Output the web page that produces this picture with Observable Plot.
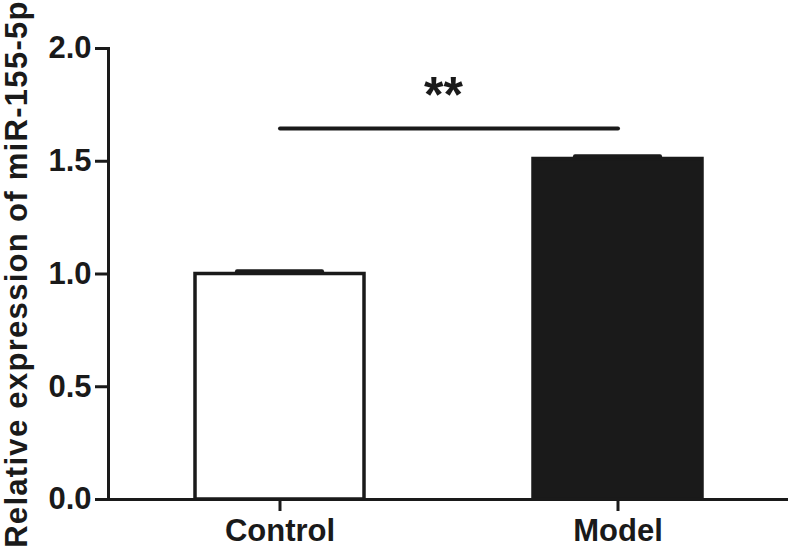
<!DOCTYPE html>
<html>
<head>
<meta charset="utf-8">
<script src="https://cdn.jsdelivr.net/npm/d3@7"></script>
<script src="https://cdn.jsdelivr.net/npm/@observablehq/plot@0.6"></script>
<style>
  html, body { margin: 0; padding: 0; background: #fff; }
  svg { display: block; }
</style>
</head>
<body>
<div id="chart"></div>
<script>
const groups = ["Control", "Model"];
const means = [1.0, 1.51];
const sems = [0.012, 0.012];
const sigY = 1.645;
const sigText = "**";
const starY = 1.79;
const yTicks = [0, 0.5, 1.0, 1.5, 2.0];
const yLabel = "Relative expression of miR-155-5p";

const data = groups.map((g, i) => ({group: g, mean: means[i], sem: sems[i]}));
const ink = "#1a1a1a";
const font = "Liberation Sans, Arial, sans-serif";

const chart = Plot.plot({
  width: 790,
  height: 547,
  marginLeft: 108,
  marginRight: 2,
  marginTop: 48,
  marginBottom: 48,
  style: {fontFamily: font, color: ink, background: "#fff"},
  x: {domain: groups, paddingInner: 0.5, paddingOuter: 0.254, label: null},
  y: {domain: [0, 2], label: null},
  marks: [
    Plot.barY(data, {x: "group", y: "mean", fill: (d, i) => i === 0 ? "#fff" : ink, stroke: ink, strokeWidth: 3.5}),
    Plot.ruleX(data, {x: "group", y1: "mean", y2: d => d.mean + d.sem, stroke: ink, strokeWidth: 3.5}),
    Plot.tickY(data, {x: "group", y: d => d.mean + d.sem, stroke: ink, strokeWidth: 4, inset: 42, strokeLinecap: "round"}),
    Plot.line(groups, {x: d => d, y: () => sigY, stroke: ink, strokeWidth: 4, strokeLinecap: "round"}),
    Plot.text([sigText], {y: () => starY, text: d => d, dx: -5, fontSize: 50, fontWeight: "bold", fill: ink}),
    Plot.ruleY([0], {stroke: ink, strokeWidth: 3}),
    Plot.frame({anchor: "left", stroke: ink, strokeWidth: 3}),
    Plot.axisY({ticks: yTicks, tickFormat: d3.format(".1f"), tickSize: 13, tickPadding: 4, strokeWidth: 3, fontSize: 31, fontWeight: "bold", label: null}),
    Plot.axisX({tickSize: 12, tickPadding: 7, fontSize: 31, fontWeight: "bold", label: null, strokeWidth: 3}),
    Plot.text([yLabel], {frameAnchor: "left", rotate: -90, dx: -91, textAnchor: "middle", text: d => d, fontSize: 31, fontWeight: "bold", fill: ink})
  ]
});

d3.select(chart).selectAll("text")
  .filter(function() { return this.textContent === yLabel; })
  .attr("letter-spacing", "1.3px");

document.getElementById("chart").appendChild(chart);
</script>
</body>
</html>
